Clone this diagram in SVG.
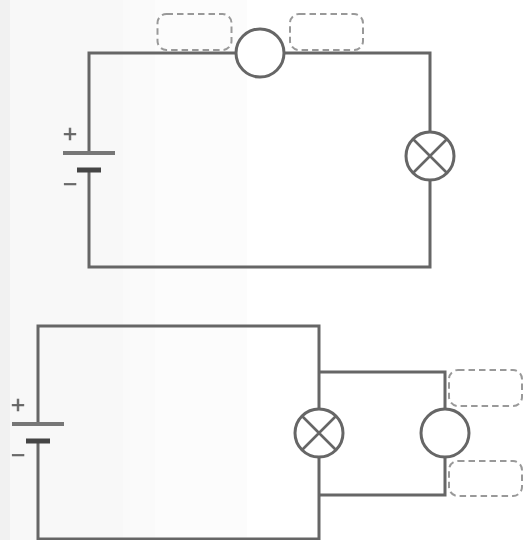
<svg xmlns="http://www.w3.org/2000/svg" width="523" height="540" viewBox="0 0 523 540">
<style>
.w{fill:none;stroke:#666;stroke-width:3}
.c{fill:#fff;stroke:#666;stroke-width:3}
.x{fill:none;stroke:#666;stroke-width:2.6}
.d{fill:none;stroke:#999;stroke-width:2;stroke-dasharray:6.500 4}
.s{stroke:#444;stroke-width:5}
.l{stroke:#777;stroke-width:4}
.t{font-family:"Liberation Sans",Arial,sans-serif;font-size:24px;fill:#666;stroke:#666;stroke-width:0.700;text-anchor:middle}
</style>
<defs><filter id="soft" x="0" y="0" width="523" height="540" filterUnits="userSpaceOnUse"><feGaussianBlur stdDeviation="0.700"/></filter></defs>
<rect width="523" height="540" fill="#fff"/>
<rect width="247" height="540" fill="#fcfcfc"/>
<rect width="155" height="540" fill="#fafafa"/>
<rect width="123" height="540" fill="#f8f8f8"/>
<rect width="10" height="540" fill="#f1f1f1"/>
<g filter="url(#soft)">
<g id="connectors">
<path class="w" d="M89 153V53H236M284 53H430V132M430 180V267H89V170"/>
<path class="w" d="M38 424V326H319V409M319 457V539H38V441"/>
<path class="w" d="M319 372H445V409M445 457V495H319"/>
</g>
<g id="battery-1">
<line class="l" x1="63" y1="153" x2="115" y2="153"/>
<line class="s" x1="77" y1="170" x2="101" y2="170"/>
<text class="t" x="70" y="142">+</text>
<text class="t" x="70" y="192">−</text>
</g>
<g id="meter-1"><circle class="c" cx="260" cy="53" r="24"/></g>
<g id="lamp-1">
<circle class="c" cx="430" cy="156" r="24"/>
<path class="x" d="M413 139L447 173M447 139L413 173"/>
</g>
<g id="label-1"><rect class="d" x="157.500" y="14" width="74" height="36" rx="9"/></g>
<g id="label-2"><rect class="d" x="290" y="14" width="73" height="36" rx="9"/></g>
<g id="battery-2">
<line class="l" x1="12" y1="424" x2="64" y2="424"/>
<line class="s" x1="26" y1="441" x2="50" y2="441"/>
<text class="t" x="18" y="413">+</text>
<text class="t" x="18" y="463">−</text>
</g>
<g id="lamp-2">
<circle class="c" cx="319" cy="433" r="24"/>
<path class="x" d="M302 416L336 450M336 416L302 450"/>
</g>
<g id="meter-2"><circle class="c" cx="445" cy="433" r="24"/></g>
<g id="label-3"><rect class="d" x="449" y="370" width="73" height="36" rx="9"/></g>
<g id="label-4"><rect class="d" x="449" y="461" width="73" height="35" rx="9"/></g>
</g>
</svg>
